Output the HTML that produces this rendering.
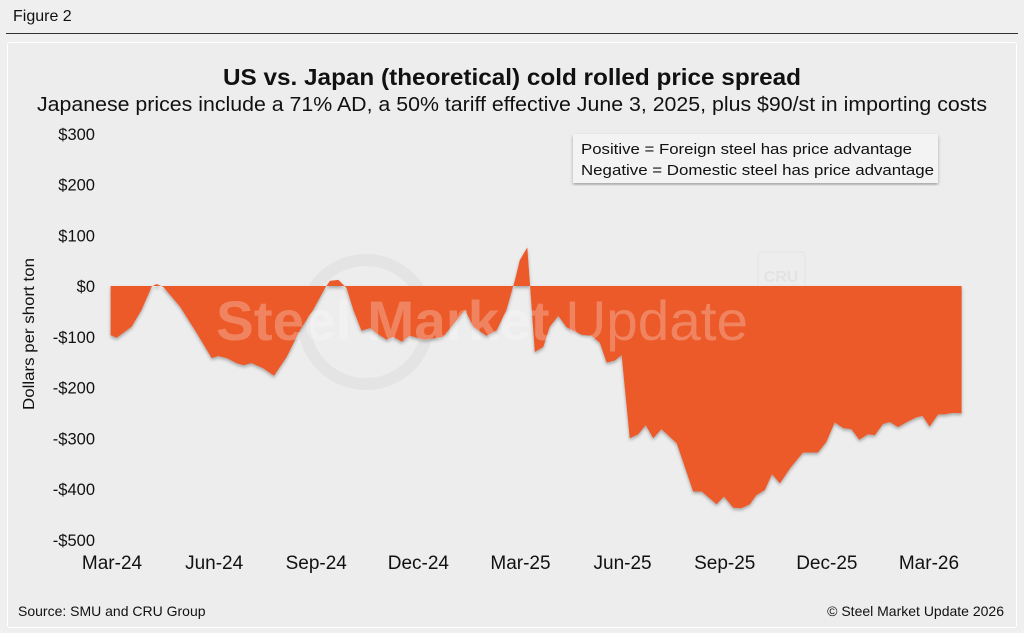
<!DOCTYPE html>
<html><head><meta charset="utf-8"><style>
html,body{margin:0;padding:0;background:#efefef;}
body{width:1024px;height:633px;overflow:hidden;position:relative;font-family:"Liberation Sans",Arial,sans-serif;}
</style></head><body>
<div style="position:absolute;left:13px;top:8px;font-size:16px;color:#111;">Figure 2</div>
<div style="position:absolute;left:6px;top:33px;width:1012px;height:1px;background:#333;"></div>
<div style="position:absolute;left:7px;top:42px;width:1008px;height:584px;border:1px solid #fff;border-radius:3px;background:#ededed;"></div>
<svg id="chart" width="1024" height="633" style="position:absolute;left:0;top:0;">
<defs><filter id="sh" x="-5%" y="-5%" width="110%" height="110%"><feDropShadow dx="0" dy="2" stdDeviation="1.5" flood-color="#000" flood-opacity="0.3"/></filter></defs>
<text x="512" y="85" text-anchor="middle" font-size="23.5" font-weight="bold" fill="#111" textLength="578" lengthAdjust="spacingAndGlyphs">US vs. Japan (theoretical) cold rolled price spread</text>
<text x="512" y="111" text-anchor="middle" font-size="20" fill="#111" textLength="950" lengthAdjust="spacingAndGlyphs">Japanese prices include a 71% AD, a 50% tariff effective June 3, 2025, plus $90/st in importing costs</text>
<g opacity="0.6">
<circle cx="366" cy="322" r="62" fill="none" stroke="#dedede" stroke-width="12"/>
<rect x="758" y="252" width="47" height="45" rx="3" fill="none" stroke="#ddd"/>
<text x="781" y="282" text-anchor="middle" font-size="16" font-weight="bold" fill="#ddd">CRU</text>
</g>
<g id="plot"></g>
<text x="216" y="340" font-size="56" font-weight="bold" fill="#ffffff" opacity="0.25" textLength="532" lengthAdjust="spacingAndGlyphs">Steel Market <tspan font-weight="normal">Update</tspan></text>
<text transform="translate(34,334) rotate(-90)" text-anchor="middle" font-size="16" fill="#111" textLength="152" lengthAdjust="spacingAndGlyphs">Dollars per short ton</text>
<g>
<rect x="573" y="134" width="365" height="49" fill="#f3f3f3" filter="url(#sh)"/>
<text x="581" y="154" font-size="15" fill="#111" textLength="331" lengthAdjust="spacingAndGlyphs">Positive = Foreign steel has price advantage</text>
<text x="581" y="175" font-size="15" fill="#111" textLength="353" lengthAdjust="spacingAndGlyphs">Negative = Domestic steel has price advantage</text>
</g>
<text x="18" y="616" font-size="14" fill="#111">Source: SMU and CRU Group</text>
<text x="1004" y="616" text-anchor="end" font-size="14" fill="#111">© Steel Market Update 2026</text>
</svg>
<script>
const months = [-0.04,0.14,0.58,0.87,1.17,1.31,1.51,2.0,2.49,2.93,3.12,3.37,3.66,3.86,4.10,4.44,4.76,5.13,5.52,5.91,6.26,6.40,6.65,6.89,7.09,7.33,7.58,7.77,8.07,8.26,8.51,8.75,9.19,9.73,10.37,10.61,11.0,11.30,11.59,11.84,11.98,12.20,12.42,12.67,12.86,13.11,13.35,13.79,14.09,14.33,14.53,14.77,14.97,15.21,15.46,15.68,15.90,16.14,16.59,17.07,17.32,17.76,17.98,18.25,18.49,18.74,18.93,19.18,19.39,19.62,19.92,20.30,20.74,20.99,21.23,21.48,21.72,21.95,22.21,22.41,22.65,22.85,23.09,23.38,23.63,23.81,24.02,24.27,24.46,24.71,24.96];
const spread = [-97,-102,-80,-47,-1,4,-2,-41,-93,-142,-138,-142,-152,-156,-152,-162,-177,-140,-87,-47,-4,10,12,-4,-47,-88,-83,-93,-106,-100,-110,-98,-106,-100,-47,-80,-98,-87,-47,12,51,76,-130,-120,-80,-59,-81,-96,-98,-112,-151,-147,-136,-300,-292,-274,-300,-282,-310,-405,-405,-430,-415,-437,-438,-430,-412,-402,-371,-389,-359,-328,-328,-307,-269,-280,-282,-303,-292,-294,-272,-268,-278,-267,-259,-256,-277,-253,-253,-250,-251];
const yTicks = [300,200,100,0,-100,-200,-300,-400,-500];
const yTickLabels = ["$300","$200","$100","$0","-$100","-$200","-$300","-$400","-$500"];
const xTickMonths = [0,3,6,9,12,15,18,21,24];
const xTickLabels = ["Mar-24","Jun-24","Sep-24","Dec-24","Mar-25","Jun-25","Sep-25","Dec-25","Mar-26"];

const NS="http://www.w3.org/2000/svg";
const xs = m => 112 + m*34.04;
const ys = v => 286 - v*0.5075;
const g = document.getElementById('plot');
let d = `M${xs(months[0])},${ys(0)}`;
for(let i=0;i<months.length;i++) d += ` L${xs(months[i]).toFixed(1)},${ys(spread[i]).toFixed(1)}`;
d += ` L${xs(months[months.length-1])},${ys(0)} Z`;
const area = document.createElementNS(NS,'path');
area.setAttribute('d',d);
area.setAttribute('fill','#ec5a2b');
area.setAttribute('filter','url(#sh)');


g.appendChild(area);
yTicks.forEach((v,i)=>{
  const t=document.createElementNS(NS,'text');
  t.setAttribute('x',95);t.setAttribute('y',ys(v)+6);
  t.setAttribute('text-anchor','end');t.setAttribute('font-size','16.5');t.setAttribute('fill','#111');
  t.textContent=yTickLabels[i];
  
  
  g.appendChild(t);
});
xTickMonths.forEach((m,i)=>{
  const t=document.createElementNS(NS,'text');
  t.setAttribute('x',xs(m));t.setAttribute('y',569);
  t.setAttribute('text-anchor','middle');t.setAttribute('font-size','19');t.setAttribute('fill','#111');
  t.textContent=xTickLabels[i];
  
  
  g.appendChild(t);
});
</script>
</body></html>
